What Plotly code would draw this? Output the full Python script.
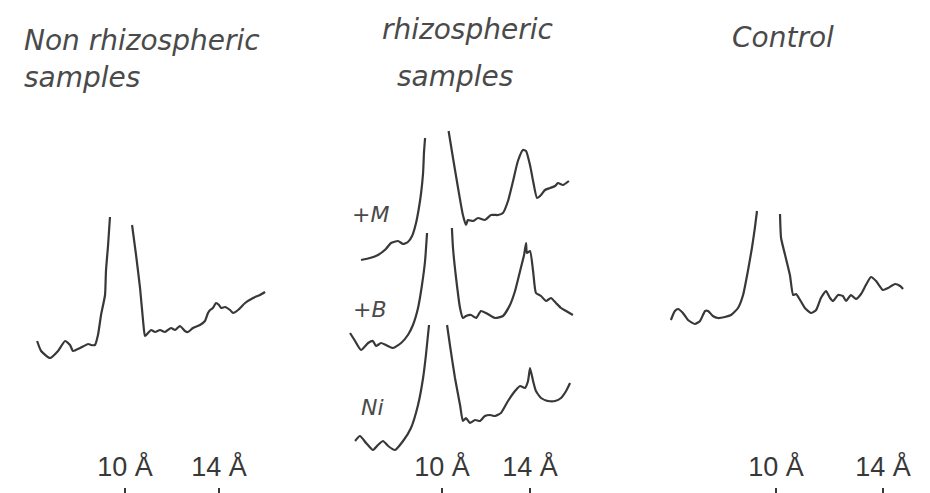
import plotly.graph_objects as go

W, H = 930, 493

# ---------------- data ----------------
# position axis: labelled with the 10 Å and 14 Å reflections
# intensity: arbitrary units; each peak's top is cut off in the original

# Non rhizospheric samples
nr_x_lo = [6.26, 6.43, 6.81, 7.15, 7.45, 7.66, 7.79, 8.09, 8.43, 8.55, 8.72, 8.85, 8.98, 9.15, 9.19, 9.28, 9.36]
nr_y_lo = [1.7, 0.7, 0.0, 0.7, 1.7, 1.3, 0.7, 1.0, 1.4, 1.3, 1.3, 2.3, 4.3, 6.3, 8.7, 11.3, 14.1]
nr_x_hi = [10.30, 10.47, 10.64, 10.77, 10.85, 10.98, 11.11, 11.28, 11.49, 11.70, 11.96, 12.13, 12.34, 12.55,
           12.68, 12.89, 13.19, 13.40, 13.53, 13.62, 13.74, 13.87, 14.00, 14.09, 14.26, 14.47, 14.60, 14.81,
           15.11, 15.45, 15.74, 15.96]
nr_y_hi = [13.3, 10.3, 7.0, 3.7, 2.2, 2.5, 2.8, 2.6, 2.8, 2.6, 3.0, 2.8, 3.2, 2.7,
           2.6, 3.0, 3.3, 3.7, 4.5, 4.8, 5.0, 5.5, 5.3, 5.0, 5.1, 4.8, 4.5, 4.8,
           5.5, 6.0, 6.3, 6.6]

# rhizospheric samples: +M
m_x_lo = [6.32, 6.73, 7.09, 7.45, 7.68, 8.00, 8.23, 8.45, 8.64, 8.82, 8.95, 9.05, 9.14, 9.18, 9.23]
m_y_lo = [0.0, 0.2, 0.5, 1.1, 1.7, 1.9, 1.6, 1.8, 2.4, 3.7, 5.2, 6.7, 8.7, 10.7, 12.2]
m_x_hi = [10.30, 10.50, 10.73, 10.95, 11.09, 11.18, 11.41, 11.64, 11.95, 12.23, 12.55, 12.77, 13.00, 13.23,
          13.45, 13.68, 13.82, 14.00, 14.14, 14.32, 14.50, 14.68, 14.91, 15.14, 15.27, 15.50, 15.77]
m_y_hi = [12.9, 10.2, 7.2, 4.5, 3.5, 4.0, 3.9, 4.2, 4.0, 4.5, 4.5, 4.7, 5.9, 7.9,
          9.9, 11.0, 10.9, 9.5, 7.9, 6.2, 6.5, 7.0, 7.2, 7.4, 7.7, 7.5, 7.9]

# rhizospheric samples: +B
b_x_lo = [5.82, 6.05, 6.32, 6.64, 6.86, 7.00, 7.23, 7.45, 7.77, 8.14, 8.45, 8.68, 8.91, 9.09, 9.23, 9.32]
b_y_lo = [1.7, 0.9, 0.0, 0.7, 0.9, 0.4, 0.7, 0.5, 0.2, 0.7, 1.5, 2.5, 4.2, 6.5, 8.9, 11.7]
b_x_hi = [10.45, 10.50, 10.64, 10.82, 10.95, 11.09, 11.32, 11.55, 11.77, 12.00, 12.41, 12.77, 13.09, 13.32,
          13.55, 13.73, 13.82, 13.86, 14.00, 14.14, 14.27, 14.50, 14.73, 14.95, 15.18, 15.41, 15.64, 15.95]
b_y_hi = [12.2, 10.2, 7.2, 4.2, 3.2, 3.4, 3.5, 3.2, 3.9, 3.7, 3.2, 3.4, 4.5, 5.9,
          7.9, 9.5, 10.7, 9.7, 9.9, 7.9, 5.7, 5.4, 4.9, 5.2, 4.7, 4.2, 3.9, 3.5]

# rhizospheric samples: Ni
ni_x_lo = [6.05, 6.27, 6.55, 6.86, 7.09, 7.32, 7.55, 7.86, 8.23, 8.59, 8.91, 9.14, 9.27, 9.41]
ni_y_lo = [0.9, 1.4, 0.7, 0.0, 0.5, 0.9, 0.4, 0.0, 0.9, 2.2, 4.5, 7.2, 9.5, 12.5]
ni_x_hi = [10.23, 10.36, 10.59, 10.82, 10.95, 11.09, 11.27, 11.50, 11.73, 11.95, 12.18, 12.41, 12.68, 13.00,
           13.32, 13.55, 13.77, 13.91, 14.00, 14.14, 14.27, 14.50, 14.82, 15.14, 15.41, 15.64, 15.82]
ni_y_hi = [12.5, 10.5, 7.2, 4.5, 2.9, 3.2, 2.7, 3.0, 2.9, 3.4, 3.5, 3.4, 3.7, 4.9,
           5.9, 6.4, 6.2, 6.9, 8.2, 6.9, 5.9, 5.2, 4.9, 4.9, 5.2, 5.9, 6.7]

# Control
c_x_lo = [6.07, 6.22, 6.34, 6.52, 6.71, 6.97, 7.16, 7.35, 7.46, 7.64, 7.83, 8.09, 8.32, 8.58, 8.77, 8.95,
          9.10, 9.21, 9.29]
c_y_lo = [0.4, 1.3, 1.5, 1.1, 0.4, 0.0, 0.3, 1.3, 1.3, 0.8, 0.6, 0.7, 0.9, 1.6, 2.9, 5.3,
          7.6, 9.6, 11.3]
c_x_hi = [10.15, 10.19, 10.34, 10.52, 10.64, 10.75, 10.90, 11.08, 11.31, 11.50, 11.68, 11.87, 12.02, 12.13,
          12.32, 12.50, 12.62, 12.80, 12.99, 13.18, 13.36, 13.55, 13.74, 14.00, 14.19, 14.45, 14.64, 14.75]
c_y_hi = [11.0, 8.6, 6.9, 4.9, 2.9, 3.0, 2.4, 1.6, 1.1, 1.4, 2.6, 3.3, 2.6, 2.3,
          2.9, 2.8, 2.3, 2.9, 2.5, 3.0, 3.9, 4.7, 4.3, 3.4, 3.6, 4.0, 3.8, 3.5]

# vertical placement (stacking offsets) of each pattern
offset_nonrhizo = 11.0
offsets_rhizo = {"+M": 20.8, "+B": 11.8, "Ni": 1.8}
offset_control = 14.4

tick_vals = [10, 14]
tick_text = ["10 Å", "14 Å"]

panel_titles = [["Non rhizospheric", "samples"], ["rhizospheric", "samples"], ["Control"]]
sample_labels = ["+M", "+B", "Ni"]

# ---------------- figure ----------------
INK = "#383838"
TXT = "#4a4a4a"
LINE = dict(color=INK, width=2.2, shape="spline", smoothing=0.5)


def pattern(x_lo, y_lo, x_hi, y_hi, off):
    xs = list(x_lo) + [None] + list(x_hi)
    ys = [v + off for v in y_lo] + [None] + [v + off for v in y_hi]
    return xs, ys


fig = go.Figure()

xs, ys = pattern(nr_x_lo, nr_y_lo, nr_x_hi, nr_y_hi, offset_nonrhizo)
fig.add_trace(go.Scatter(x=xs, y=ys, mode="lines", line=LINE, connectgaps=False,
                         xaxis="x", yaxis="y", name="Non rhizospheric"))

for name, (xl, yl, xh, yh) in zip(sample_labels,
                                  [(m_x_lo, m_y_lo, m_x_hi, m_y_hi),
                                   (b_x_lo, b_y_lo, b_x_hi, b_y_hi),
                                   (ni_x_lo, ni_y_lo, ni_x_hi, ni_y_hi)]):
    xs, ys = pattern(xl, yl, xh, yh, offsets_rhizo[name])
    fig.add_trace(go.Scatter(x=xs, y=ys, mode="lines", line=LINE, connectgaps=False,
                             xaxis="x2", yaxis="y2", name=name))

xs, ys = pattern(c_x_lo, c_y_lo, c_x_hi, c_y_hi, offset_control)
fig.add_trace(go.Scatter(x=xs, y=ys, mode="lines", line=LINE, connectgaps=False,
                         xaxis="x3", yaxis="y3", name="Control"))


def px(v):
    return v / W


def py(v):
    return 1 - v / H


y_dom = [py(491), 1]
y_rng = [-3.1, 46.0]
tickfont = dict(family="Liberation Sans, Arial, sans-serif", size=27, color=INK)
xcommon = dict(tickmode="array", tickvals=tick_vals, ticktext=tick_text, ticks="inside",
               ticklen=11, tickwidth=1.6, tickcolor=INK, ticklabelposition="inside",
               ticklabelstandoff=9,
               showgrid=False, zeroline=False, tickfont=tickfont, fixedrange=True)
ycommon = dict(domain=y_dom, range=y_rng, visible=False, fixedrange=True)

fig.update_layout(
    width=W, height=H, margin=dict(l=0, r=0, t=0, b=0),
    paper_bgcolor="white", plot_bgcolor="rgba(0,0,0,0)", showlegend=False,
    xaxis=dict(domain=[px(0), px(300)], range=[5.021, 17.787], anchor="y", showline=False, **xcommon),
    xaxis2=dict(domain=[px(310), px(600)], range=[4.364, 17.545], anchor="y2", showline=False, **xcommon),
    xaxis3=dict(domain=[px(650), 1], range=[5.589, 16.056], anchor="y3", showline=True,
                linecolor=INK, linewidth=1.8, **xcommon),
    yaxis=dict(anchor="x", **ycommon),
    yaxis2=dict(anchor="x2", **ycommon),
    yaxis3=dict(anchor="x3", **ycommon),
    shapes=[dict(type="line", xref="paper", yref="paper", x0=px(388), x1=px(578),
                 y0=py(491), y1=py(491), line=dict(color=INK, width=1.8))],
)

titlefont = dict(family="DejaVu Sans, sans-serif", size=28, color=TXT, style="italic", weight=300)
title_pos = [[(14, 33), (14, 70)], [(372, 22), (387, 68)], [(722, 30)]]
for lines, poss in zip(panel_titles, title_pos):
    for txt, (x0, y0) in zip(lines, poss):
        fig.add_annotation(text=txt, x=px(x0), y=py(y0), xref="paper", yref="paper",
                           xanchor="left", yanchor="middle", showarrow=False, font=titlefont)

labfont = dict(family="DejaVu Sans, sans-serif", size=22, color=TXT, style="italic", weight=300)
for txt, (x0, y0) in zip(sample_labels, [(362, 207), (362, 301), (364, 399)]):
    fig.add_annotation(text=txt, x=px(x0), y=py(y0), xref="paper", yref="paper",
                       xanchor="center", yanchor="middle", showarrow=False, font=labfont)

fig.write_html("out.html")
